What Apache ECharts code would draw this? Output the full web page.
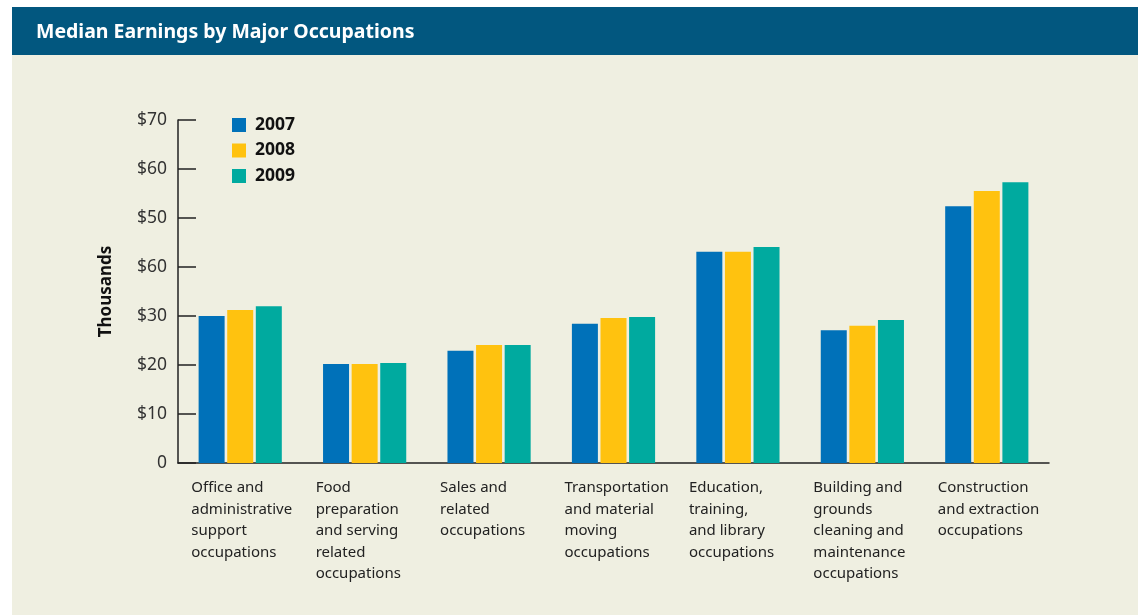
<!DOCTYPE html>
<html>
<head>
<meta charset="utf-8">
<script src="https://cdn.jsdelivr.net/npm/echarts@6/dist/echarts.min.js"></script>
<style>
  html, body { margin: 0; padding: 0; background: #ffffff; }
  #chart { width: 1138px; height: 615px; }
</style>
</head>
<body>
<div id="chart"></div>
<script>
const categories = [
  'Office and\nadministrative\nsupport\noccupations',
  'Food\npreparation\nand serving\nrelated\noccupations',
  'Sales and\nrelated\noccupations',
  'Transportation\nand material\nmoving\noccupations',
  'Education,\ntraining,\nand library\noccupations',
  'Building and\ngrounds\ncleaning and\nmaintenance\noccupations',
  'Construction\nand extraction\noccupations'
];
const years = ['2007', '2008', '2009'];
const values2007 = [30.0, 20.2, 22.9, 28.4, 43.1, 27.1, 52.4];
const values2008 = [31.2, 20.2, 24.1, 29.6, 43.1, 28.0, 55.5];
const values2009 = [32.0, 20.4, 24.1, 29.8, 44.1, 29.2, 57.3];
// tick labels as printed in the original (the 40 level reads "$60")
const yTickLabels = ['0', '$10', '$20', '$30', '$60', '$50', '$60', '$70'];

const colors = ['#0071b9', '#ffc20f', '#00aa9f'];
const font = '"Noto Sans", "Open Sans", sans-serif';

const chart = echarts.init(document.getElementById('chart'));

const seriesData = [values2007, values2008, values2009];

chart.setOption({
  backgroundColor: '#ffffff',
  animation: false,
  graphic: [
    { type: 'rect', z: -10, shape: { x: 12, y: 7, width: 1126, height: 608 }, style: { fill: '#efefe1' } },
    { type: 'rect', z: -9, shape: { x: 12, y: 7, width: 1126, height: 48 }, style: { fill: '#02577f' } }
  ],
  title: {
    text: 'Median Earnings by Major Occupations',
    left: 31,
    top: 17,
    textStyle: { color: '#ffffff', fontFamily: font, fontWeight: 'bold', fontSize: 19.5 }
  },
  legend: {
    data: years,
    orient: 'vertical',
    left: 227,
    top: 111,
    itemWidth: 14,
    itemHeight: 14,
    itemGap: 7.5,
    icon: 'rect',
    textStyle: { color: '#111', fontFamily: font, fontWeight: 'bold', fontSize: 17.5, padding: [0, 0, 0, 4] }
  },
  grid: { left: 178, right: 89, top: 120, bottom: 152, containLabel: false },
  xAxis: {
    type: 'category',
    data: categories,
    axisLine: { lineStyle: { color: '#222', width: 1.5 } },
    axisTick: { inside: true, length: 8, lineStyle: { color: '#333', width: 1.5 } },
    axisLabel: {
      interval: 0,
      margin: 14,
      width: 98,
      align: 'center',
      overflow: 'none',
      formatter: v => '{t|' + v + '}',
      rich: {
        t: { align: 'left', fontFamily: font, fontSize: 15, lineHeight: 21.5, color: '#222' }
      }
    }
  },
  yAxis: {
    type: 'value',
    min: 0,
    max: 70,
    interval: 10,
    name: 'Thousands',
    nameLocation: 'middle',
    nameGap: 63,
    nameRotate: 90,
    nameTextStyle: { color: '#111', fontFamily: font, fontWeight: 'bold', fontSize: 17 },
    axisLine: { show: true, lineStyle: { color: '#222', width: 1.5 } },
    axisTick: { show: true, inside: true, length: 18, lineStyle: { color: '#222', width: 1.5 } },
    splitLine: { show: false },
    axisLabel: {
      margin: 11,
      color: '#333',
      fontFamily: font,
      fontSize: 17.5,
      formatter: v => yTickLabels[Math.round(v / 10)]
    }
  },
  series: years.map((y, i) => ({
    name: y,
    type: 'bar',
    data: seriesData[i],
    barWidth: 26,
    barGap: '10%',
    itemStyle: { color: colors[i] }
  }))
});
</script>
</body>
</html>
